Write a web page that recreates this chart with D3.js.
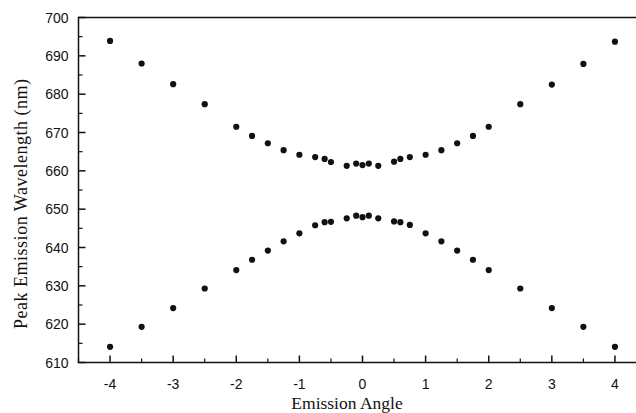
<!DOCTYPE html>
<html>
<head>
<meta charset="utf-8">
<script src="https://cdn.jsdelivr.net/npm/d3@7"></script>
<style>
  body { margin: 0; background: #fff; }
  #chart { width: 636px; height: 413px; overflow: hidden; }
</style>
</head>
<body>
<div id="chart"></div>
<script>
// emission angles (same set for both branches)
const angles = [-4, -3.5, -3, -2.5, -2, -1.75, -1.5, -1.25, -1, -0.75, -0.6, -0.5, -0.25, -0.1,
    0, 0.1, 0.25, 0.5, 0.6, 0.75, 1, 1.25, 1.5, 1.75, 2, 2.5, 3, 3.5, 4];

const upperBranch = [693.9, 688.0, 682.6, 677.4, 671.5, 669.1, 667.2, 665.4, 664.2, 663.6, 663.1, 662.3, 661.3, 661.9,
    661.5, 661.9, 661.3, 662.4, 663.1, 663.6, 664.2, 665.4, 667.2, 669.1, 671.5, 677.4, 682.5, 687.9, 693.7];

const lowerBranch = [614.1, 619.3, 624.2, 629.3, 634.1, 636.8, 639.2, 641.6, 643.7, 645.8, 646.6, 646.7, 647.6, 648.3,
    647.9, 648.3, 647.6, 646.8, 646.6, 645.9, 643.7, 641.6, 639.2, 636.8, 634.1, 629.3, 624.2, 619.3, 614.1];

const xTicks = [-4, -3, -2, -1, 0, 1, 2, 3, 4];
const yTicks = [610, 620, 630, 640, 650, 660, 670, 680, 690, 700];

const width = 636, height = 413;
const margin = { left: 78.5, top: 17.5, right: -10.5, bottom: 50.5 };

const svg = d3.select("#chart").append("svg")
    .attr("width", width)
    .attr("height", height);

const x = d3.scaleLinear().domain([-4.5, 4.5]).range([margin.left, width - margin.right]);
const y = d3.scaleLinear().domain([610, 700]).range([height - margin.bottom, margin.top]);

const ink = "#111";

// frame
svg.append("rect")
    .attr("x", x(-4.5)).attr("y", y(700))
    .attr("width", x(4.5) - x(-4.5)).attr("height", y(610) - y(700))
    .attr("fill", "none").attr("stroke", ink).attr("stroke-width", 1.5);

// x axis ticks pointing in
const xMinor = d3.range(-4.5, 4.51, 0.5).filter(v => !xTicks.includes(v));
const xAxis = svg.append("g").attr("transform", `translate(0,${y(610)})`);
xAxis.selectAll("line.major").data(xTicks).enter().append("line")
    .attr("x1", d => x(d)).attr("x2", d => x(d))
    .attr("y1", 0).attr("y2", -7)
    .attr("stroke", ink).attr("stroke-width", 1.5);
xAxis.selectAll("line.minor").data(xMinor).enter().append("line")
    .attr("x1", d => x(d)).attr("x2", d => x(d))
    .attr("y1", 0).attr("y2", -4)
    .attr("stroke", ink).attr("stroke-width", 1.2);
xAxis.selectAll("text").data(xTicks).enter().append("text")
    .attr("x", d => x(d)).attr("y", 26)
    .attr("text-anchor", "middle")
    .attr("font-family", "Liberation Sans, Arial, sans-serif")
    .attr("font-size", "14px")
    .attr("fill", ink)
    .text(d => d);

// y axis ticks pointing in
const yMinor = d3.range(615, 700, 10);
const yAxis = svg.append("g").attr("transform", `translate(${x(-4.5)},0)`);
yAxis.selectAll("line.major").data(yTicks).enter().append("line")
    .attr("x1", 0).attr("x2", 7)
    .attr("y1", d => y(d)).attr("y2", d => y(d))
    .attr("stroke", ink).attr("stroke-width", 1.5);
yAxis.selectAll("line.minor").data(yMinor).enter().append("line")
    .attr("x1", 0).attr("x2", 4)
    .attr("y1", d => y(d)).attr("y2", d => y(d))
    .attr("stroke", ink).attr("stroke-width", 1.2);
yAxis.selectAll("text").data(yTicks).enter().append("text")
    .attr("x", -10).attr("y", d => y(d))
    .attr("dy", "0.36em")
    .attr("text-anchor", "end")
    .attr("font-family", "Liberation Sans, Arial, sans-serif")
    .attr("font-size", "14px")
    .attr("fill", ink)
    .text(d => d);

// axis titles
svg.append("text")
    .attr("x", 347).attr("y", 409)
    .attr("text-anchor", "middle")
    .attr("font-family", "Liberation Serif, Times New Roman, serif")
    .attr("font-size", "17.5px")
    .attr("fill", ink)
    .text("Emission Angle");

svg.append("text")
    .attr("transform", "translate(27,204) rotate(-90)")
    .attr("text-anchor", "middle")
    .attr("font-family", "Liberation Serif, Times New Roman, serif")
    .attr("font-size", "18px")
    .attr("textLength", 250)
    .attr("lengthAdjust", "spacing")
    .attr("fill", ink)
    .text("Peak Emission Wavelength (nm)");

// points
const points = angles.map((a, i) => ({ a, v: upperBranch[i] }))
    .concat(angles.map((a, i) => ({ a, v: lowerBranch[i] })));

svg.append("g")
    .selectAll("circle")
    .data(points)
    .enter().append("circle")
    .attr("cx", d => x(d.a))
    .attr("cy", d => y(d.v))
    .attr("r", 3.1)
    .attr("fill", ink);
</script>
</body>
</html>
